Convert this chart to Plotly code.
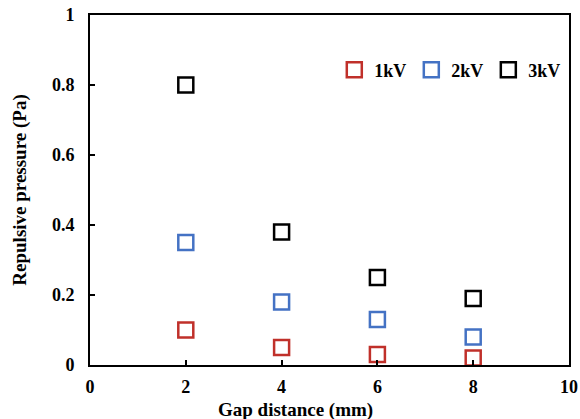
import plotly.graph_objects as go

gap_mm = [2, 4, 6, 8]
p_1kv = [0.10, 0.05, 0.03, 0.02]
p_2kv = [0.35, 0.18, 0.13, 0.08]
p_3kv = [0.80, 0.38, 0.25, 0.19]
series_names = ["1kV", "2kV", "3kV"]
series_colors = ["#C0302A", "#4472C4", "#000000"]
x_ticks = [0, 2, 4, 6, 8, 10]
x_ticklabels = ["0", "2", "4", "6", "8", "10"]
y_ticks = [0, 0.2, 0.4, 0.6, 0.8, 1]
y_ticklabels = ["0", "0.2", "0.4", "0.6", "0.8", "1"]

FONT = "Liberation Serif"

fig = go.Figure()
for name, vals, col in zip(series_names, [p_1kv, p_2kv, p_3kv], series_colors):
    fig.add_trace(go.Scatter(
        x=gap_mm, y=vals, mode="markers", name="<b>%s</b>" % name,
        marker=dict(symbol="square-open", size=15, color=col, line=dict(width=2.5, color=col)),
    ))

axis_common = dict(
    showline=True, linecolor="black", linewidth=2, mirror=True,
    ticks="inside", ticklen=5, tickwidth=2, tickcolor="black",
    showgrid=False, zeroline=False, automargin=False,
    tickfont=dict(family=FONT, size=18, color="black"),
)

fig.update_layout(
    width=580, height=419,
    margin=dict(l=90, r=11, t=15, b=54),
    paper_bgcolor="white", plot_bgcolor="white",
    font=dict(family=FONT, color="black"),
    showlegend=True,
    legend=dict(
        orientation="h", x=0.51, y=0.843, xanchor="left", yanchor="middle",
        font=dict(family=FONT, size=18, color="black"),
        bgcolor="rgba(0,0,0,0)", itemwidth=30, tracegroupgap=0,
    ),
    xaxis=dict(range=[0, 10], tickvals=x_ticks,
               ticktext=["<b>%s</b>" % t for t in x_ticklabels],
               ticklabelstandoff=4, **axis_common),
    yaxis=dict(range=[0, 1], tickvals=y_ticks,
               ticktext=["<b>%s</b>" % t for t in y_ticklabels],
               ticklabelstandoff=10,
               title=dict(text="<b>Repulsive pressure (Pa)</b>",
                          font=dict(family=FONT, size=19, color="black"), standoff=20),
               **axis_common),
)

fig.add_annotation(
    text="<b>Gap distance (mm)</b>", xref="paper", yref="paper",
    x=0.428, y=-0.13, xanchor="center", yanchor="middle", showarrow=False,
    font=dict(family=FONT, size=19, color="black"),
)

fig.write_html("out.html")
